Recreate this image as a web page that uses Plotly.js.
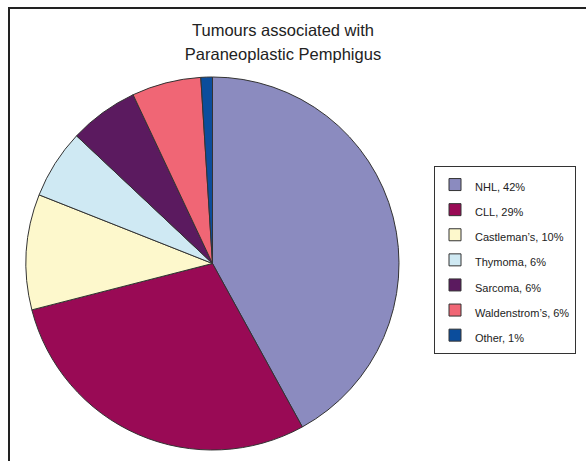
<!DOCTYPE html>
<html><head><meta charset="utf-8">
<script src="https://cdn.plot.ly/plotly-3.0.1.min.js"></script>
<style>html,body{margin:0;padding:0;background:#fff}#c{width:586px;height:461px}</style>
</head><body><div id="c"></div>
<script>
const categories = ["NHL", "CLL", "Castleman\u2019s", "Thymoma", "Sarcoma", "Waldenstrom\u2019s", "Other"];
const percents = [42, 29, 10, 6, 6, 6, 1];
const colors = ["#8b8bbf", "#990a55", "#fdf8cc", "#cfe9f3", "#5b1a5f", "#f06675", "#0b4d9c"];
const titleLines = ["Tumours associated with", "Paraneoplastic Pemphigus"];

const labels = categories.map((c, i) => `<span style="font-size:11px">${c}, ${percents[i]}%</span>`);
const titleText = titleLines.map(t => `<span style="font-size:16.5px">${t}</span>`).join("<br>");

const W = 586, H = 461;
const FONT = "Liberation Sans, Arial, Helvetica, sans-serif";
const data = [{
  type: "pie",
  labels: labels,
  values: percents,
  sort: false,
  direction: "clockwise",
  rotation: 0,
  textinfo: "none",
  hoverinfo: "label",
  marker: {colors: colors, line: {color: "#333", width: 1}},
  domain: {x: [25 / W, 400 / W], y: [1 - 450 / H, 1 - 77 / H]}
}];
const layout = {
  width: W, height: H,
  margin: {l: 0, r: 0, t: 0, b: 0},
  paper_bgcolor: "#fff",
  font: {family: FONT, color: "#222"},
  title: {text: titleText, x: 283 / W, xanchor: "center", y: 1 - 35.5 / H, yanchor: "top",
          font: {size: 18.5, color: "#222", family: FONT}},
  showlegend: true,
  legend: {x: 434 / W, xanchor: "left", y: 1 - 166 / H, yanchor: "top",
           bordercolor: "#333", borderwidth: 1, bgcolor: "#fff",
           font: {size: 17, color: "#222", family: FONT}},
  shapes: [{type: "rect", xref: "paper", yref: "paper",
            x0: 9 / W, x1: 1.05, y0: -0.05, y1: 1 - 8 / H,
            line: {color: "#222", width: 2}}]
};
Plotly.newPlot("c", data, layout, {displayModeBar: false, staticPlot: true});
</script></body></html>
